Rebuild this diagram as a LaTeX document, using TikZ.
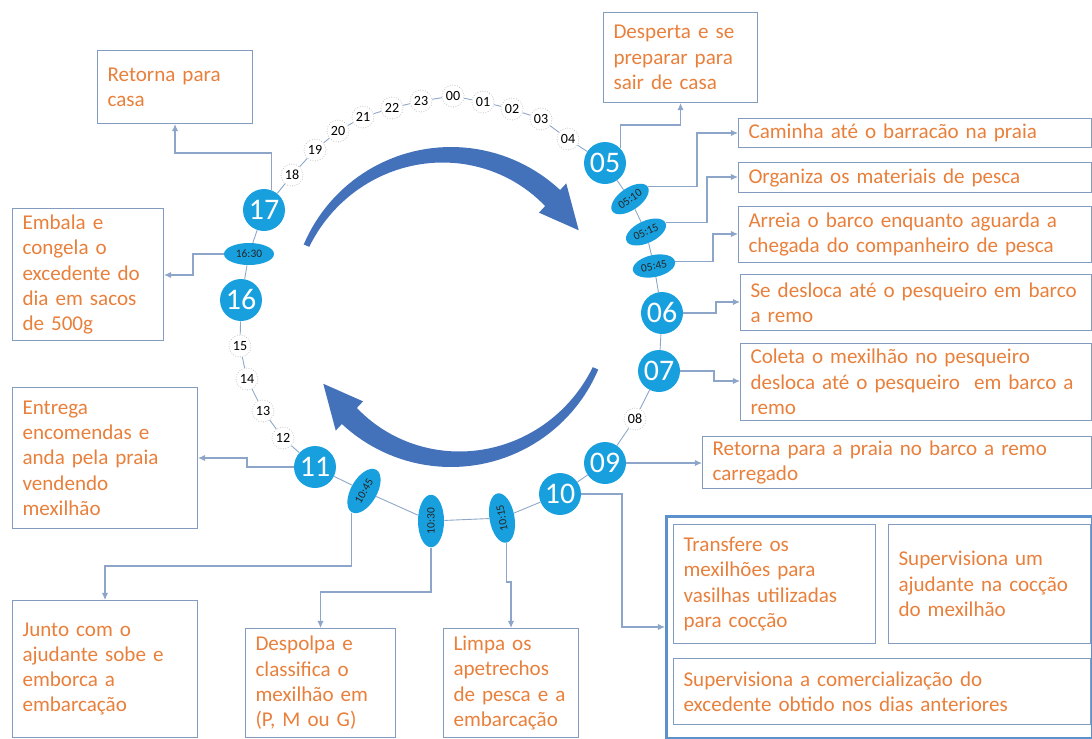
\documentclass[tikz,border=0pt]{standalone}
\usepackage{fontspec}
\setmainfont{Carlito}
\usetikzlibrary{shapes.geometric,arrows.meta,positioning}
\definecolor{ringblue}{RGB}{24,160,222}
\definecolor{linegray}{RGB}{140,165,200}
\definecolor{boxline}{RGB}{130,155,190}
\definecolor{outerline}{RGB}{91,145,205}
\definecolor{txtorange}{RGB}{232,128,60}
\definecolor{arrowblue}{RGB}{68,114,186}

\begin{document}
\begin{tikzpicture}[x=0.02cm,y=-0.02cm,
  hour/.style={circle,fill=ringblue,text=white,minimum size=0.84cm,inner sep=0pt,font=\fontsize{17}{17}\selectfont},
  night/.style={circle,draw=gray!55,densely dotted,fill=white,minimum size=0.44cm,inner sep=0pt,font=\fontsize{8}{8}\selectfont},
  tick/.style={ellipse,fill=ringblue,text=black!85,inner sep=0pt,minimum width=0.86cm,minimum height=0.44cm,font=\fontsize{6.5}{6.5}\selectfont},
  task/.style={draw=boxline,line width=0.6pt,text=txtorange,align=left,inner xsep=0.2cm,inner ysep=0pt,font=\fontsize{12}{14.4}\selectfont,anchor=north west},
  ring/.style={draw=linegray,line width=0.5pt},
  link/.style={draw=linegray,line width=0.6pt,-{Latex[length=4pt,width=3.5pt]}}]
  \useasboundingbox (0,0) rectangle (1092,738);

  \fill[arrowblue] plot[domain=157:47,samples=50] ({451+160*cos(\x)},{307-160*sin(\x)})
    -- ({451+169*cos(47)},{307-169*sin(47)})
    -- ({451+149*cos(31)},{307-149*sin(31)})
    -- ({451+129*cos(47)},{307-129*sin(47)})
    -- plot[domain=47:157,samples=50] ({451+(138+16*(\x-47)/110)*cos(\x)},{307-(138+16*(\x-47)/110)*sin(\x)}) -- cycle;
  \fill[arrowblue] plot[domain=-23:-133,samples=50] ({451+160*cos(\x)},{307-160*sin(\x)})
    -- ({451+169*cos(-133)},{307-169*sin(-133)})
    -- ({451+149*cos(-149)},{307-149*sin(-149)})
    -- ({451+129*cos(-133)},{307-129*sin(-133)})
    -- plot[domain=-133:-23,samples=50] ({451+(138+16*(\x+133)/110)*cos(\x)},{307-(138+16*(\x+133)/110)*sin(\x)}) -- cycle;

  \node[night] (n00) at (453,96) {00};
  \node[night] (n01) at (483,102) {01};
  \node[night] (n02) at (512,109) {02};
  \node[night] (n03) at (541,119) {03};
  \node[night] (n04) at (568,139) {04};
  \node[hour] (h05) at (605,163) {05};
  \node[tick,rotate=35] (t0510) at (630,199) {05:10};
  \node[tick,rotate=25] (t0515) at (646,232) {05:15};
  \node[tick,rotate=12] (t0545) at (654,266) {05:45};
  \node[hour] (h06) at (662,313) {06};
  \node[hour] (h07) at (659,371) {07};
  \node[night] (n08) at (635,419) {08};
  \node[hour] (h09) at (605,463) {09};
  \node[hour] (h10) at (560,494) {10};
  \node[tick,rotate=100,minimum width=1.0cm,minimum height=0.5cm] (t1015) at (502,518) {10:15};
  \node[tick,rotate=90,minimum width=1.05cm,minimum height=0.52cm] (t1030) at (431,521) {10:30};
  \node[tick,rotate=60,minimum width=0.98cm,minimum height=0.52cm] (t1045) at (364,491) {10:45};
  \node[hour] (h11) at (315,467) {11};
  \node[night] (n12) at (283,438) {12};
  \node[night] (n13) at (263,411) {13};
  \node[night] (n14) at (247,379) {14};
  \node[night] (n15) at (240,346) {15};
  \node[hour] (h16) at (241,300) {16};
  \node[tick,minimum width=1.0cm] (t1630) at (249,254) {16:30};
  \node[hour] (h17) at (264,210) {17};
  \node[night] (n18) at (292,175) {18};
  \node[night] (n19) at (315,150) {19};
  \node[night] (n20) at (338,131) {20};
  \node[night] (n21) at (363,117) {21};
  \node[night] (n22) at (392,108) {22};
  \node[night] (n23) at (421,101) {23};

  \path[ring] (n00) edge (n01) (n01) edge (n02) (n02) edge (n03) (n03) edge (n04)
    (n04) edge (h05) (h05) edge (t0510) (t0510) edge (t0515) (t0515) edge (t0545)
    (t0545) edge (h06) (h06) edge (h07) (h07) edge (n08) (n08) edge (h09)
    (h09) edge (h10) (h10) edge (t1015) (t1015) edge (t1030) (t1030) edge (t1045)
    (t1045) edge (h11) (h11) edge (n12) (n12) edge (n13) (n13) edge (n14)
    (n14) edge (n15) (n15) edge (h16) (h16) edge (t1630) (t1630) edge (h17)
    (h17) edge (n18) (n18) edge (n19) (n19) edge (n20) (n20) edge (n21)
    (n21) edge (n22) (n22) edge (n23) (n23) edge (n00);

  \node[task,text width=2.68cm,minimum height=1.8cm] (desperta) at (603,12) {Desperta e se\\preparar para\\sair de casa};
  \node[task,text width=2.7cm,minimum height=1.46cm] (retornacasa) at (97,50) {Retorna para\\casa};
  \node[task,text width=6.66cm,minimum height=0.58cm] (caminha) at (738,118) {Caminha até o barracão na praia};
  \node[task,text width=6.66cm,minimum height=0.6cm] (organiza) at (738,162) {Organiza os materiais de pesca};
  \node[task,text width=6.66cm,minimum height=1.12cm] (arreia) at (738,206) {Arreia o barco enquanto aguarda a\\chegada do companheiro de pesca};
  \node[task,text width=6.62cm,minimum height=1.12cm] (sedesloca) at (740,274) {Se desloca até o pesqueiro em barco\\a remo};
  \node[task,text width=6.62cm,minimum height=1.54cm] (coleta) at (740,343) {Coleta o mexilhão no pesqueiro\\desloca até o pesqueiro\ \ em barco a\\remo};
  \node[task,text width=7.38cm,minimum height=1.04cm] (retornapraia) at (702,436) {Retorna para a praia no barco a remo\\carregado};
  \node[task,text width=2.62cm,minimum height=2.64cm] (embala) at (12,208) {Embala e\\congela o\\excedente do\\dia em sacos\\de 500g};
  \node[task,text width=3.3cm,minimum height=2.82cm] (entrega) at (12,387) {Entrega\\encomendas e\\anda pela praia\\vendendo\\mexilhão};
  \node[task,text width=3.3cm,minimum height=2.74cm] (junto) at (12,600) {Junto com o\\ajudante sobe e\\emborca a\\embarcação};
  \node[task,text width=2.6cm,minimum height=2.18cm] (despolpa) at (245,628) {Despolpa e\\classifica o\\mexilhão em\\(P, M ou G)};
  \node[task,text width=2.3cm,minimum height=2.18cm] (limpa) at (443,628) {Limpa os\\apetrechos\\de pesca e a\\embarcação};
  \node[draw=outerline,line width=1.6pt,minimum width=8.52cm,minimum height=4.44cm,inner sep=0pt,anchor=north west] (coccao) at (665,515) {};
  \node[task,text width=3.64cm,minimum height=2.38cm] (transfere) at (673,524) {Transfere os\\mexilhões para\\vasilhas utilizadas\\para cocção};
  \node[task,text width=3.64cm,minimum height=2.38cm] (supcoccao) at (888,524) {Supervisiona um\\ajudante na cocção\\do mexilhão};
  \node[task,text width=7.94cm,minimum height=1.32cm] (supvenda) at (673,658) {Supervisiona a comercialização do\\excedente obtido nos dias anteriores};

  \coordinate (k05) at (0,125);
  \coordinate (k0510) at (697,133);
  \coordinate (k0515) at (707,177);
  \coordinate (k0545) at (713,234);
  \coordinate (k06) at (716,302);
  \coordinate (k07) at (714,381);
  \coordinate (k10) at (622,627);
  \coordinate (k1015) at (0,582);
  \coordinate (k1030) at (0,592);
  \coordinate (k1045) at (0,566);
  \coordinate (k11) at (247,458);
  \coordinate (k1630) at (193,275);
  \coordinate (k17) at (0,153);

  \draw[link] (h05.north east) |- (k05 -| desperta.south) -- (desperta.south);
  \draw[link] (t0510.east) -| (k0510) -- (k0510 -| caminha.west);
  \draw[link] (t0515.east) -| (k0515) -- (k0515 -| organiza.west);
  \draw[link] (t0545.east) -| (k0545) -- (k0545 -| arreia.west);
  \draw[link] (h06.east) -| (k06) -- (k06 -| sedesloca.west);
  \draw[link] (h07.east) -| (k07) -- (k07 -| coleta.west);
  \draw[link] (h09.east) -- (h09.east -| retornapraia.west);
  \draw[link] (h10.east) -| (k10) -- (k10 -| coccao.west);
  \draw[link] (t1015.west) |- (k1015 -| limpa.north) -- (limpa.north);
  \draw[link] (t1030.west) |- (k1030 -| despolpa.north) -- (despolpa.north);
  \draw[link] (t1045.west) |- (k1045 -| junto.north) -- (junto.north);
  \draw[link] (h11.west) -| (k11) -- (k11 -| entrega.east);
  \draw[link] (t1630.west) -| (k1630) -- (k1630 -| embala.east);
  \draw[link] (h17.70) |- (k17 -| retornacasa.south) -- (retornacasa.south);
\end{tikzpicture}
\end{document}
